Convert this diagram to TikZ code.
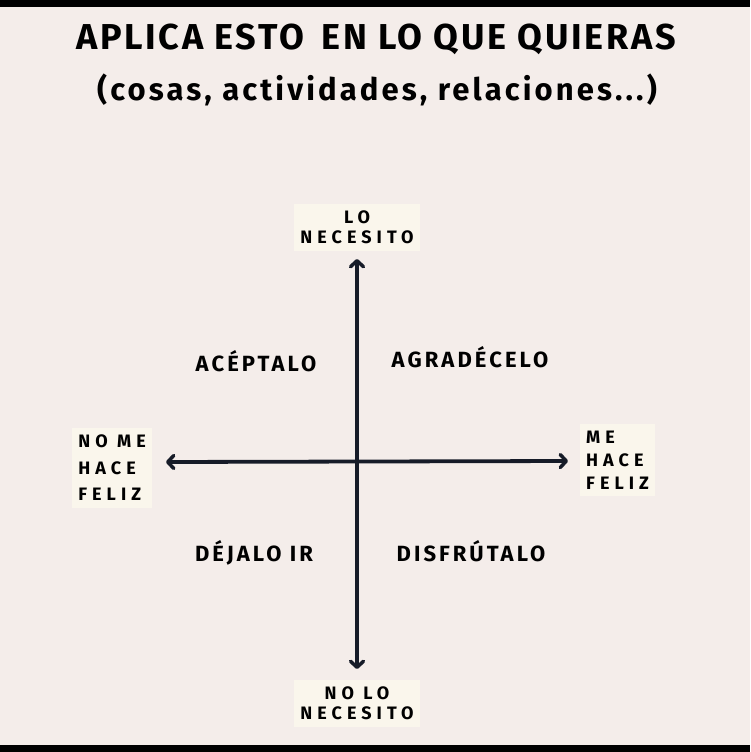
\documentclass[tikz,border=0pt]{standalone}
\usepackage{fontspec}
\setmainfont{Fira Sans}
\newfontfamily\headfont[LetterSpace=7.5]{Fira Sans}
\newfontfamily\handfont[LetterSpace=10]{Fira Sans}
\newfontfamily\quadfont[LetterSpace=14]{Fira Sans}
\newfontfamily\axisfont[LetterSpace=28]{Fira Sans}
\usetikzlibrary{arrows.meta, positioning}
\definecolor{Paper}{HTML}{F4EDEA}
\definecolor{Note}{HTML}{FAF6EC}
\definecolor{Ink}{HTML}{161B28}

\begin{document}
\begin{tikzpicture}[x=1pt, y=-1pt,
title/.style={
	font=\headfont\fontsize{36}{40}\selectfont\bfseries,
	text=black,
	inner sep=0pt},
subtitle/.style={
	font=\handfont\fontsize{31}{36}\selectfont\bfseries,
	text=black,
	inner sep=0pt},
quadrant/.style={
	font=\quadfont\fontsize{22}{24}\selectfont\bfseries,
	text=black,
	inner sep=0pt},
axislabel/.style={
	fill=Note,
	font=\axisfont\fontsize{18}{20}\selectfont\bfseries,
	text=black,
	align=center,
	inner xsep=6pt,
	inner ysep=7pt},
sidelabel/.style={
	axislabel,
	align=left,
	font=\axisfont\fontsize{18}{26.5}\selectfont\bfseries},
axis/.style={
	{Straight Barb[length=6pt, width=13pt, line width=3.5pt, round]}-{Straight Barb[length=6pt, width=13pt, line width=3.5pt, round]},
	draw=Ink,
	line width=3.8pt,
	shorten >=1pt,
	shorten <=1pt}]

% paper
\useasboundingbox (0,0) rectangle (750,752);
\fill[Paper] (0,0) rectangle (750,752);
\fill[black] (0,0) rectangle (750,7);
\fill[black] (0,745) rectangle (750,752);

% heading
\node[title] (Head) at (376,39) {APLICA ESTO\, EN LO QUE QUIERAS};
\node[subtitle] (Sub) at (377,90) {(cosas, actividades, relaciones...)};

% axes
\coordinate (Top) at (357,258);
\coordinate (Bottom) at (357,670);
\coordinate (Left) at (165,462);
\coordinate (Right) at (569,461);

\path[axis] (Top) -- (Bottom);
\path[axis] (Left) -- (Right);

% axis labels
\node[axislabel, above = 7pt of Top] (Need) {LO\\NECESITO};
\node[axislabel, below = 10pt of Bottom] (NoNeed) {NO LO\\NECESITO};
\node[sidelabel, anchor=east] (Sad) at (152,468) {NO ME\\HACE\\FELIZ};
\node[sidelabel, anchor=west, font=\axisfont\fontsize{18}{23}\selectfont\bfseries] (Happy) at (580,460) {ME\\HACE\\FELIZ};

% quadrants
\node[quadrant] (Accept) at (256,361) {ACÉPTALO};
\node[quadrant] (Thank) at (470,357) {AGRADÉCELO};
\node[quadrant] (LetGo) at (254,553) {DÉJALO IR};
\node[quadrant] (Enjoy) at (471,551) {DISFRÚTALO};
\end{tikzpicture}
\end{document}
